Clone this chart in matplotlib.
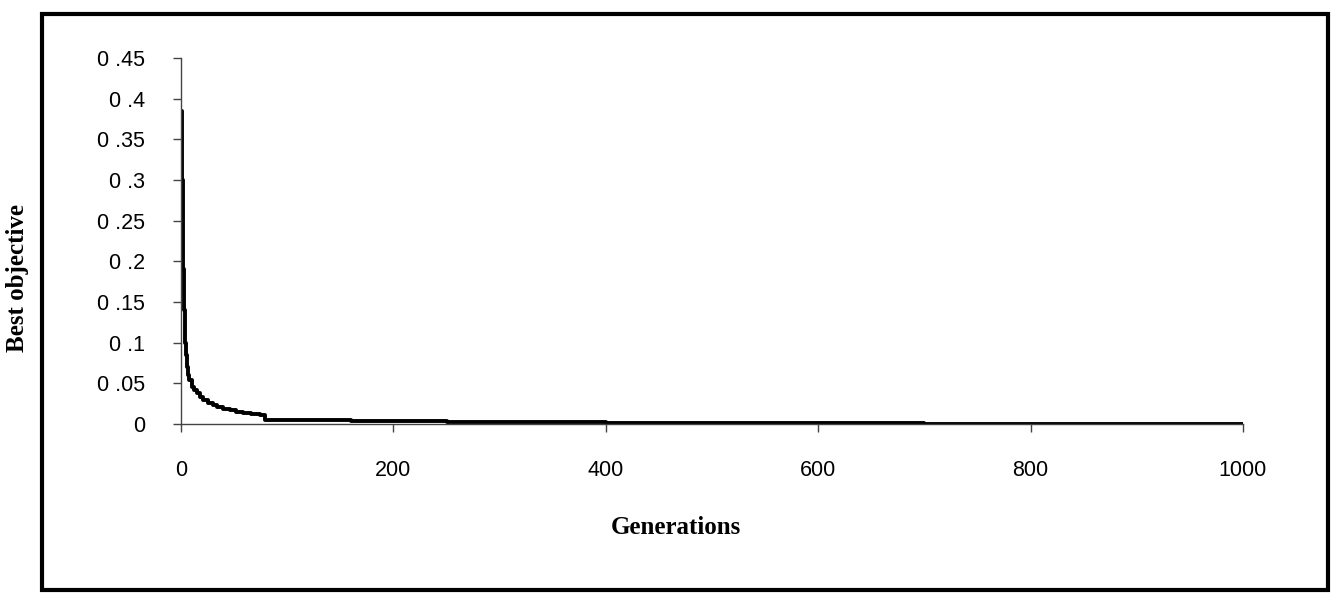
import matplotlib.pyplot as plt
from matplotlib.patches import Rectangle

# best objective per generation
generations = [0, 1, 2, 3, 4, 5, 6, 7, 8, 10, 12, 15, 18, 21, 25, 30, 34, 40, 46,
               52, 58, 66, 74, 79, 100, 130, 160, 200, 250, 300, 330, 400, 500,
               560, 600, 700, 800, 900, 1000]
best_obj = [0.385, 0.30, 0.19, 0.14, 0.10, 0.085, 0.070, 0.060, 0.054, 0.046,
            0.042, 0.038, 0.033, 0.029, 0.026, 0.023, 0.021, 0.019, 0.017,
            0.015, 0.0135, 0.0125, 0.011, 0.0055, 0.005, 0.0045, 0.004, 0.0035,
            0.003, 0.0025, 0.002, 0.0015, 0.0012, 0.001, 0.0008, 0.0006,
            0.0005, 0.0004, 0.0003]

y_ticks = [0, 0.05, 0.1, 0.15, 0.2, 0.25, 0.3, 0.35, 0.4, 0.45]
y_labels = ["0", "0 .05", "0 .1", "0 .15", "0 .2", "0 .25", "0 .3", "0 .35", "0 .4", "0 .45"]
x_ticks = [0, 200, 400, 600, 800, 1000]

fig = plt.figure(figsize=(13.35, 6), dpi=100)
ax = fig.add_axes([181 / 1335, 1 - 424 / 600, (1243 - 181) / 1335, (424 - 58) / 600])

ax.plot(generations, best_obj, color="black", linewidth=2.8, drawstyle="steps-post")

ax.set_xlim(0, 1000)
ax.set_ylim(0, 0.45)
ax.set_yticks(y_ticks)
ax.set_yticklabels(y_labels)
ax.set_xticks(x_ticks)

for s in ["top", "right"]:
    ax.spines[s].set_visible(False)
for s in ["left", "bottom"]:
    ax.spines[s].set_color("#444444")
    ax.spines[s].set_linewidth(1.0)

for lab in ax.get_xticklabels() + ax.get_yticklabels():
    lab.set_fontfamily("Liberation Sans")
    lab.set_fontsize(15.5)
ax.tick_params(axis="y", direction="out", length=6, width=1, color="#444444", pad=20)
ax.tick_params(axis="x", direction="out", length=6, width=1, color="#444444", pad=20)

fig.text(676 / 1335, 1 - 527 / 600, "Generations", family="Liberation Serif",
         weight="bold", fontsize=18, ha="center", va="center")
fig.text(18 / 1335, 1 - 278 / 600, "Best objective", family="Liberation Serif",
         weight="bold", fontsize=18, ha="center", va="center", rotation=90)

# outer border box
fig.patches.append(Rectangle((42 / 1335, 1 - 590 / 600), (1328 - 42) / 1335, (590 - 14) / 600,
                             transform=fig.transFigure, fill=False, edgecolor="black",
                             linewidth=3))

fig.savefig("out.png", dpi=100)
